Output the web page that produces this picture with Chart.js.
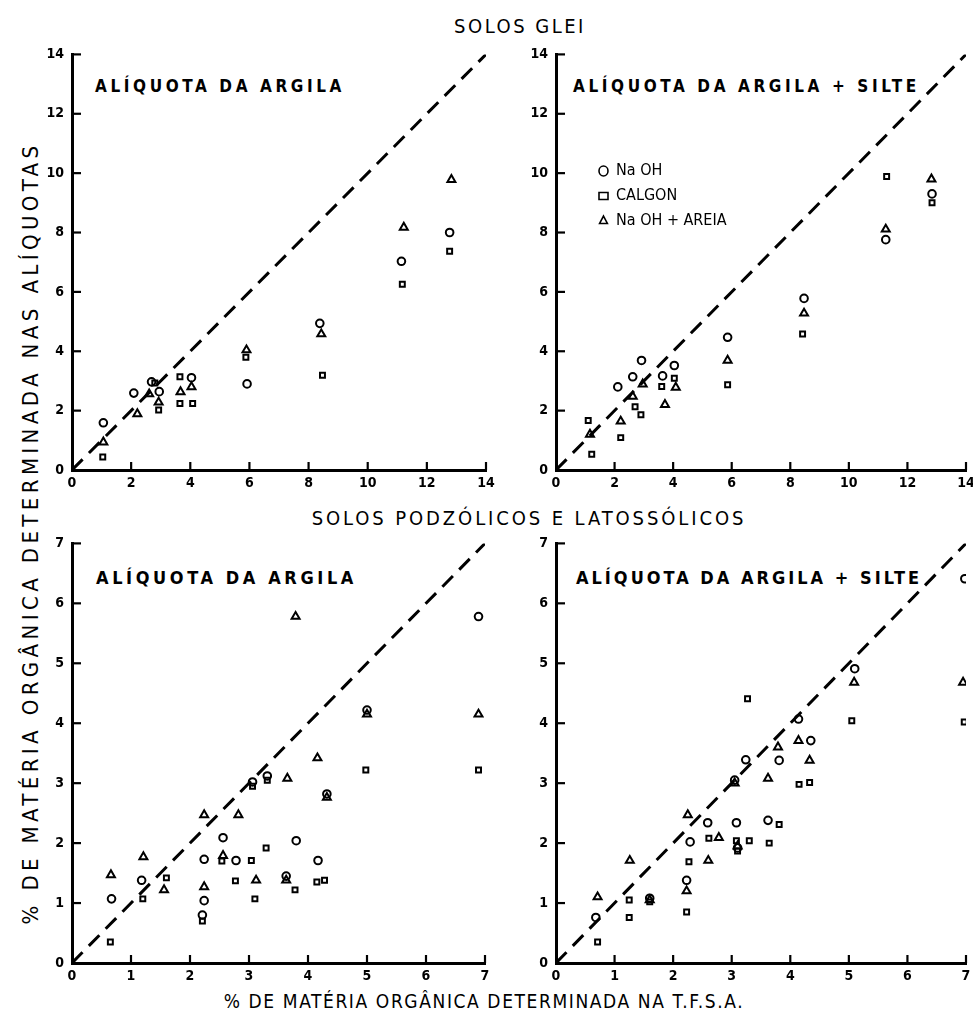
<!DOCTYPE html>
<html><head><meta charset="utf-8">
<script src="https://cdn.jsdelivr.net/npm/chart.js@4.4.0/dist/chart.umd.min.js"></script>
<style>
html,body{margin:0;padding:0;background:#fff;}
body{width:973px;height:1016px;position:relative;overflow:hidden;font-family:"DejaVu Sans Condensed","DejaVu Sans",sans-serif;color:#000;}
.pan{position:absolute;}
.txt{position:absolute;white-space:nowrap;}
.ptitle{font-weight:bold;font-size:17px;letter-spacing:3.6px;}
.sec{font-size:20px;letter-spacing:2.5px;}
</style></head>
<body>
<div class="txt sec" style="left:0;width:1040px;text-align:center;top:14px;">SOLOS GLEI</div>
<div class="txt sec" style="left:0;width:1058px;text-align:center;top:506px;letter-spacing:2.9px;">SOLOS PODZÓLICOS E LATOSSÓLICOS</div>
<div class="txt ptitle" style="left:95px;top:76px;">ALÍQUOTA DA ARGILA</div>
<div class="txt ptitle" style="left:573px;top:76px;">ALÍQUOTA DA ARGILA + SILTE</div>
<div class="txt ptitle" style="left:96px;top:567px;font-size:18px;letter-spacing:3.6px;">ALÍQUOTA DA ARGILA</div>
<div class="txt ptitle" style="left:576px;top:567px;font-size:18px;letter-spacing:3.0px;">ALÍQUOTA DA ARGILA + SILTE</div>
<div class="txt" style="left:30px;top:533px;transform:translate(-50%,-50%) rotate(-90deg);font-size:22px;letter-spacing:4.4px;">% DE MATÉRIA ORGÂNICA DETERMINADA NAS ALÍQUOTAS</div>
<div class="txt" style="left:0;width:968px;text-align:center;top:990px;font-size:19px;letter-spacing:1.6px;">% DE MATÉRIA ORGÂNICA DETERMINADA NA T.F.S.A.</div>
<canvas id="c1" class="pan"></canvas>
<canvas id="c2" class="pan"></canvas>
<canvas id="c3" class="pan"></canvas>
<canvas id="c4" class="pan"></canvas>
<canvas id="cl" class="pan"></canvas>
<script>
// ---- tick labels ----
const ticksGlei = [0, 2, 4, 6, 8, 10, 12, 14];
const ticksPodz = [0, 1, 2, 3, 4, 5, 6, 7];
const legendLabels = ['Na OH', 'CALGON', 'Na OH + AREIA'];

// ---- SOLOS GLEI, ALÍQUOTA DA ARGILA ----
const gleiArgilaNaOH = [[1.06,1.59],[2.09,2.59],[2.69,2.97],[2.95,2.64],[4.04,3.11],[5.92,2.9],[8.38,4.94],[11.14,7.03],[12.77,8.0]];
const gleiArgilaCalgon = [[1.04,0.44],[2.80,2.93],[2.93,2.02],[3.65,3.14],[3.65,2.24],[4.08,2.24],[5.88,3.8],[8.47,3.19],[11.17,6.26],[12.77,7.37]];
const gleiArgilaAreia = [[1.06,0.94],[2.21,1.89],[2.61,2.56],[2.93,2.28],[3.67,2.63],[4.04,2.8],[5.9,4.04],[8.43,4.58],[11.22,8.17],[12.83,9.78]];

// ---- SOLOS GLEI, ALÍQUOTA DA ARGILA + SILTE ----
const gleiSilteNaOH = [[2.11,2.8],[2.62,3.14],[2.92,3.69],[3.64,3.17],[4.04,3.52],[5.86,4.47],[8.47,5.78],[11.26,7.76],[12.84,9.3]];
const gleiSilteCalgon = [[1.10,1.67],[1.22,0.53],[2.21,1.09],[2.70,2.13],[2.90,1.86],[3.61,2.81],[4.04,3.09],[5.86,2.87],[8.42,4.58],[11.29,9.89],[12.84,9.0]];
const gleiSilteAreia = [[1.16,1.2],[2.21,1.64],[2.62,2.48],[2.96,2.89],[3.72,2.2],[4.09,2.78],[5.86,3.69],[8.47,5.28],[11.26,8.11],[12.82,9.8]];

// ---- PODZÓLICOS E LATOSSÓLICOS, ALÍQUOTA DA ARGILA ----
const podzArgilaNaOH = [[0.67,1.07],[1.18,1.38],[2.24,1.73],[2.24,1.04],[2.21,0.8],[2.56,2.09],[2.78,1.71],[3.06,3.02],[3.31,3.12],[3.63,1.45],[3.80,2.04],[4.17,1.71],[4.32,2.82],[5.0,4.22],[6.89,5.78]];
const podzArgilaCalgon = [[0.65,0.35],[1.20,1.07],[1.60,1.42],[2.21,0.7],[2.54,1.70],[2.77,1.37],[3.04,1.71],[3.10,1.07],[3.06,2.95],[3.31,3.05],[3.29,1.92],[3.78,1.22],[4.15,1.35],[4.28,1.38],[4.98,3.22],[6.89,3.22]];
const podzArgilaAreia = [[0.66,1.47],[1.21,1.77],[1.56,1.22],[2.24,2.47],[2.24,1.27],[2.56,1.79],[2.82,2.47],[3.12,1.38],[3.65,3.08],[3.63,1.38],[3.79,5.78],[4.16,3.42],[4.32,2.76],[5.0,4.15],[6.89,4.15]];

// ---- PODZÓLICOS E LATOSSÓLICOS, ALÍQUOTA DA ARGILA + SILTE ----
const podzSilteNaOH = [[0.68,0.76],[1.60,1.08],[2.23,1.38],[2.29,2.02],[2.59,2.34],[3.05,3.05],[3.08,2.34],[3.10,1.92],[3.24,3.39],[3.62,2.38],[3.81,3.38],[4.14,4.07],[4.35,3.71],[5.10,4.91],[6.98,6.41]];
const podzSilteCalgon = [[0.71,0.35],[1.25,1.05],[1.25,0.76],[1.60,1.02],[2.23,0.85],[2.27,1.69],[2.61,2.08],[3.08,2.04],[3.30,2.04],[3.10,1.87],[3.27,4.41],[3.64,2.0],[3.81,2.31],[4.15,2.98],[4.33,3.01],[5.05,4.04],[6.97,4.02]];
const podzSilteAreia = [[0.71,1.10],[1.26,1.71],[1.60,1.05],[2.23,1.20],[2.25,2.47],[2.60,1.71],[2.78,2.09],[3.05,3.0],[3.10,1.95],[3.62,3.08],[3.79,3.60],[4.14,3.71],[4.33,3.38],[5.09,4.68],[6.95,4.68]];

const toXY = a => a.map(p => ({x: p[0], y: p[1]}));

const innerTicks = {
  id: 'innerTicks',
  afterDatasetsDraw(chart) {
    const {ctx, chartArea} = chart;
    const xs = chart.scales.x, ys = chart.scales.y;
    if (!xs || !ys || !xs.options.display) return;
    ctx.save();
    ctx.strokeStyle = '#000';
    ctx.lineWidth = 2.2;
    xs.ticks.forEach(t => {
      if (t.value === xs.min) return;
      const p = xs.getPixelForValue(t.value);
      ctx.beginPath(); ctx.moveTo(p, chartArea.bottom); ctx.lineTo(p, chartArea.bottom - 8); ctx.stroke();
    });
    ys.ticks.forEach(t => {
      if (t.value === ys.min) return;
      const p = ys.getPixelForValue(t.value);
      ctx.beginPath(); ctx.moveTo(chartArea.left, p); ctx.lineTo(chartArea.left + 9, p); ctx.stroke();
    });
    ctx.restore();
  }
};

function ptDs(label, data, style, r) {
  return {type: 'scatter', label, data: toXY(data), pointStyle: style, radius: r,
    backgroundColor: 'rgba(255,255,255,0)', borderColor: '#000', pointBorderWidth: 2, borderWidth: 2, showLine: false};
}

function makePanel(id, box, tickArr, naoh, calgon, areia) {
  const padL = 45, padT = 12, padR = 14, padB = 32;
  const cv = document.getElementById(id);
  const W = box.R - box.L + padL + padR, H = box.B - box.T + padT + padB;
  cv.width = W; cv.height = H;
  cv.style.left = (box.L - padL) + 'px'; cv.style.top = (box.T - padT) + 'px';
  cv.style.width = W + 'px'; cv.style.height = H + 'px';
  const maxV = tickArr[tickArr.length - 1];
  const tickFont = {family: '"DejaVu Sans Condensed","DejaVu Sans"', size: 14, weight: 'bold'};
  new Chart(cv, {
    data: {datasets: [
      {type: 'line', data: [{x: 0, y: 0}, {x: maxV, y: maxV}], borderColor: '#000', borderWidth: 3, borderDash: [15, 9], pointRadius: 0, fill: false},
      ptDs(legendLabels[0], naoh, 'circle', 3.8),
      ptDs(legendLabels[1], calgon, 'rect', 3.5),
      ptDs(legendLabels[2], areia, 'triangle', 4.6)
    ]},
    options: {
      responsive: false, animation: false, devicePixelRatio: 1,
      layout: {padding: {top: padT, right: padR, left: 0, bottom: 0}},
      plugins: {legend: {display: false}, tooltip: {enabled: false}},
      scales: {
        x: {type: 'linear', min: 0, max: maxV,
          afterBuildTicks: s => { s.ticks = tickArr.map(v => ({value: v})); },
          afterFit: s => { s.height = padB; },
          grid: {display: true, drawOnChartArea: false, drawTicks: false},
          border: {display: true, color: '#000', width: 3},
          ticks: {color: '#000', font: tickFont, padding: 5, maxRotation: 0, autoSkip: false}},
        y: {type: 'linear', min: 0, max: maxV,
          afterBuildTicks: s => { s.ticks = tickArr.map(v => ({value: v})); },
          afterFit: s => { s.width = padL; },
          grid: {display: true, drawOnChartArea: false, drawTicks: false},
          border: {display: true, color: '#000', width: 3},
          ticks: {color: '#000', font: tickFont, padding: 8, autoSkip: false}}
      }
    },
    plugins: [innerTicks]
  });
}

makePanel('c1', {L: 72, T: 50, R: 486, B: 470}, ticksGlei, gleiArgilaNaOH, gleiArgilaCalgon, gleiArgilaAreia);
makePanel('c2', {L: 556, T: 50, R: 966, B: 470}, ticksGlei, gleiSilteNaOH, gleiSilteCalgon, gleiSilteAreia);
makePanel('c3', {L: 72, T: 539, R: 485, B: 963}, ticksPodz, podzArgilaNaOH, podzArgilaCalgon, podzArgilaAreia);
makePanel('c4', {L: 556, T: 539, R: 966, B: 963}, ticksPodz, podzSilteNaOH, podzSilteCalgon, podzSilteAreia);

// legend (Chart.js legend, no axes)
(function(){
  const cv = document.getElementById('cl');
  cv.width = 300; cv.height = 84;
  cv.style.left = '590px'; cv.style.top = '154px';
  cv.style.width = '300px'; cv.style.height = '84px';
  const styles = ['circle', 'rect', 'triangle'];
  new Chart(cv, {
    type: 'scatter',
    data: {datasets: legendLabels.map((l, i) => ({label: l, data: [], pointStyle: styles[i], borderColor: '#000', backgroundColor: 'rgba(255,255,255,0)', borderWidth: 1.6}))},
    options: {
      responsive: false, animation: false, devicePixelRatio: 1,
      layout: {padding: 0},
      scales: {x: {display: false}, y: {display: false}},
      plugins: {tooltip: {enabled: false}, legend: {display: true, position: 'left', align: 'start',
        labels: {usePointStyle: true, pointStyleWidth: 9, boxHeight: 7, padding: 9, color: '#000',
          font: {family: '"DejaVu Sans Condensed","DejaVu Sans"', size: 16}}}}
    }
  });
})();
</script>
</body></html>
